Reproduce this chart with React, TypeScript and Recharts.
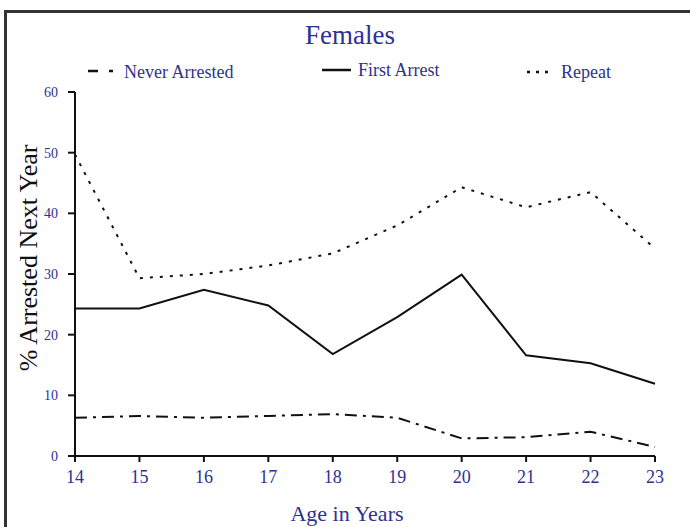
import { LineChart, Line, XAxis, YAxis } from "recharts";

const ages = [14, 15, 16, 17, 18, 19, 20, 21, 22, 23];
const neverArrested = [6.3, 6.6, 6.3, 6.6, 6.9, 6.3, 2.9, 3.1, 4.0, 1.5];
const firstArrest = [24.3, 24.3, 27.4, 24.8, 16.8, 22.9, 29.9, 16.6, 15.3, 11.9];
const repeat = [49.7, 29.3, 30.0, 31.4, 33.4, 38.0, 44.3, 41.0, 43.5, 34.2];
const yTicks = [0, 10, 20, 30, 40, 50, 60];

const data = ages.map((age, i) => ({
    age,
    never: neverArrested[i],
    first: firstArrest[i],
    repeat: repeat[i],
}));

const BLUE = "#2e3192";
const FONT = "'Liberation Serif', 'Times New Roman', serif";

const series = [
    { key: "never", name: "Never Arrested", dash: "12 6 3 6", legendDash: "10 11 4 40", lx: 88, lw: 25, tx: 124, ly: 71, ty: 78 },
    { key: "first", name: "First Arrest", dash: undefined, legendDash: undefined, lx: 322, lw: 29, tx: 358, ly: 70, ty: 76 },
    { key: "repeat", name: "Repeat", dash: "3 7", legendDash: "3 6", lx: 527, lw: 22, tx: 561, ly: 72, ty: 78 },
];

const App = () => (
    <div style={{ position: "absolute", left: 0, top: 0, width: 690, height: 527, background: "#fff", overflow: "hidden" }}>
        <div style={{ position: "absolute", left: 4, top: 10, width: 700, height: 530, borderTop: "3px solid #333", borderLeft: "3px solid #333" }} />
        <LineChart width={690} height={527} data={data} margin={{ top: 92, right: 35, left: 0, bottom: 0 }}>
            <XAxis
                dataKey="age"
                type="number"
                domain={[14, 23]}
                ticks={ages}
                height={71}
                axisLine={{ stroke: "#111", strokeWidth: 2 }}
                tickLine={{ stroke: "#111", strokeWidth: 2 }}
                tickSize={6}
                tickMargin={8}
                tick={{ fill: BLUE, fontSize: 18, fontFamily: FONT }}
            />
            <YAxis
                domain={[0, 60]}
                ticks={yTicks}
                width={75}
                axisLine={{ stroke: "#111", strokeWidth: 2 }}
                tickLine={{ stroke: "#111", strokeWidth: 2 }}
                tickSize={7}
                tickMargin={10}
                tick={{ fill: BLUE, fontSize: 14, fontFamily: FONT }}
            />
            {series.map((s) => (
                <Line
                    key={s.key}
                    dataKey={s.key}
                    name={s.name}
                    type="linear"
                    stroke="#111"
                    strokeWidth={2}
                    strokeDasharray={s.dash}
                    dot={false}
                    activeDot={false}
                    isAnimationActive={false}
                />
            ))}
        </LineChart>
        <svg width={690} height={527} style={{ position: "absolute", left: 0, top: 0, pointerEvents: "none" }}>
            <text x={350} y={44} textAnchor="middle" fill={BLUE} fontSize={27} fontFamily={FONT}>Females</text>
            {series.map((s) => (
                <g key={s.key}>
                    <line x1={s.lx} x2={s.lx + s.lw} y1={s.ly} y2={s.ly} stroke="#111" strokeWidth={2.5} strokeDasharray={s.legendDash} />
                    <text x={s.tx} y={s.ty} fill={BLUE} fontSize={18} fontFamily={FONT}>{s.name}</text>
                </g>
            ))}
            <text x={347} y={521} textAnchor="middle" fill={BLUE} fontSize={22} fontFamily={FONT}>Age in Years</text>
            <text x={0} y={0} transform="translate(37,258) rotate(-90)" textAnchor="middle" fill="#111" fontSize={26} fontFamily={FONT}>% Arrested Next Year</text>
        </svg>
    </div>
);

export default App;
